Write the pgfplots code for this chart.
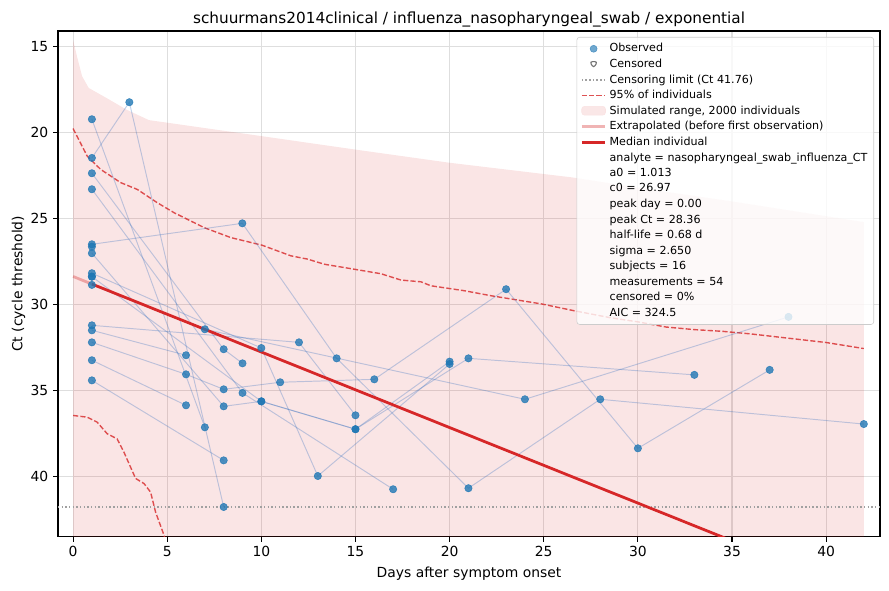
\documentclass[border=0pt]{standalone}
\usepackage{pgfplots}
\pgfplotsset{compat=1.18}
\usepackage{fontspec}
\setmainfont{DejaVu Sans}
\usetikzlibrary{calc}
\definecolor{mplblue}{HTML}{1F77B4}
\definecolor{mplred}{HTML}{D62728}
\definecolor{subj}{RGB}{50,110,190}
\definecolor{lgblue}{RGB}{76,146,195}
\definecolor{lgred}{RGB}{222,82,83}
\definecolor{lgpink}{RGB}{250,226,226}
\definecolor{lgextra}{RGB}{240,180,180}
\definecolor{lggray}{RGB}{160,160,160}
\begin{document}
\begin{tikzpicture}
\begin{axis}[
  name=ax,
  scale only axis,
  width=591.8pt, height=364.1pt,
  xmin=-0.80, xmax=42.86,
  ymin=14.09, ymax=43.49,
  y dir=reverse,
  xtick={0,5,...,40},
  ytick={15,20,...,40},
  tick align=outside,
  xtick pos=left, ytick pos=left,
  major tick length=3.5pt,
  every tick/.style={black, line width=0.8pt},
  axis line style={line width=0.8pt},
  grid=major,
  major grid style={black!13, line width=0.8pt},
  /pgf/number format/assume math mode=true,
  ticklabel style={font=\fontsize{10}{12}\selectfont},
  label style={font=\fontsize{10}{12}\selectfont},
  xlabel={Days after symptom onset},
  ylabel={Ct (cycle threshold)},
  every axis y label/.append style={yshift=-3pt},
  title={schuurmans2014clinical / influenza\_nasopharyngeal\_swab / exponential},
  title style={font=\fontsize{11}{13}\selectfont, yshift=-6.5pt},
  legend cell align=left,
  legend style={at={(1,1)}, anchor=north east, xshift=-4.3pt, yshift=-4.3pt,
    font=\fontsize{8}{9.6}\selectfont, draw=black!20, rounded corners=2pt,
    fill=white, fill opacity=0.8, text opacity=1, row sep=-0.35pt, inner sep=2.5pt},
]
% legend
\addlegendimage{legend image code/.code={\fill[lgblue] (0.3cm,0cm) circle[radius=2.5pt];}}
\addlegendentry{Observed}
\addlegendimage{legend image code/.code={\draw[black!55, line width=0.8pt] (0.2cm,2pt) -- (0.4cm,2pt) -- (0.3cm,-2.6pt) -- cycle;}}
\addlegendentry{Censored}
\addlegendimage{legend image code/.code={\draw[lggray, line width=1pt, dash pattern=on 1pt off 1.65pt] (0cm,0cm) -- (0.6cm,0cm);}}
\addlegendentry{Censoring limit (Ct 41.76)}
\addlegendimage{legend image code/.code={\draw[lgred, line width=1.1pt, dash pattern=on 3.7pt off 1.6pt] (0cm,0cm) -- (0.6cm,0cm);}}
\addlegendentry{95\% of individuals}
\addlegendimage{legend image code/.code={\fill[lgpink] (0cm,-0.1cm) rectangle (0.6cm,0.12cm);}}
\addlegendentry{Simulated range, 2000 individuals}
\addlegendimage{legend image code/.code={\draw[lgextra, line width=2pt] (0cm,0cm) -- (0.6cm,0cm);}}
\addlegendentry{Extrapolated (before first observation)}
\addlegendimage{legend image code/.code={\draw[mplred, line width=2pt] (0cm,0cm) -- (0.6cm,0cm);}}
\addlegendentry{Median individual}
\addlegendimage{empty legend}\addlegendentry{analyte = nasopharyngeal\_swab\_influenza\_CT}
\addlegendimage{empty legend}\addlegendentry{a0 = 1.013}
\addlegendimage{empty legend}\addlegendentry{c0 = 26.97}
\addlegendimage{empty legend}\addlegendentry{peak day = 0.00}
\addlegendimage{empty legend}\addlegendentry{peak Ct = 28.36}
\addlegendimage{empty legend}\addlegendentry{half-life = 0.68 d}
\addlegendimage{empty legend}\addlegendentry{sigma = 2.650}
\addlegendimage{empty legend}\addlegendentry{subjects = 16}
\addlegendimage{empty legend}\addlegendentry{measurements = 54}
\addlegendimage{empty legend}\addlegendentry{censored = 0\%}
\addlegendimage{empty legend}\addlegendentry{AIC = 324.5}

% simulated range
\addplot[forget plot, draw=none, fill=mplred, fill opacity=0.12] coordinates {
 (0,14.6) (0.21,15.58) (0.48,16.72) (0.83,17.4) (1.8,18.0) (2.87,18.68) (4.03,19.27)
 (10,20.2) (15.1,21.0) (20,21.75) (26.5,22.6) (30,23.2) (35,24.0) (42,25.2)
 (42,50) (0,50) (0,14.6)};

% 95% dashed lines
\addplot[forget plot, mplred, opacity=0.8, line width=1pt, dash pattern=on 3.7pt off 1.6pt] coordinates {
 (0,19.76) (0.75,21.36) (1.46,22.13) (2.52,22.9) (3.41,23.3) (4.47,24.07) (5.36,24.65)
 (6.96,25.52) (8.38,26.1) (10.03,26.54) (11.57,27.16) (12.45,27.35) (13.35,27.65) (14.4,27.84)
 (16.35,28.2) (17.42,28.57) (18.48,28.67) (19.0,28.9) (20.79,29.19) (22.2,29.48) (24.9,29.96)
 (26.6,30.35) (28.5,30.75) (30,31.0) (31.5,31.3) (33,31.45) (34.5,31.55) (36,31.7) (38,31.95)
 (40,32.2) (42,32.55)};
\addplot[forget plot, mplred, opacity=0.8, line width=1pt, dash pattern=on 3.7pt off 1.6pt] coordinates {
 (0,36.44) (0.75,36.54) (1.28,36.83) (1.81,37.5) (2.34,37.8) (2.7,38.57) (3.32,40.1)
 (3.77,40.4) (4.12,40.9) (4.38,42.05) (4.83,43.4) (5.0,44.2)};

% censoring limit
\addplot[forget plot, lggray, line width=1pt, dash pattern=on 1pt off 1.65pt] coordinates {(-1,41.76) (44,41.76)};

% subject trajectories
\pgfplotsset{subjline/.style={forget plot, subj, opacity=0.3, line width=0.7pt}}
\addplot[subjline] coordinates {(1,21.47) (2.99,18.23) (8,41.76)};
\addplot[subjline] coordinates {(1,26.49) (8.99,25.27) (14,33.12) (21,40.67) (28,35.5) (42,36.94)};
\addplot[subjline] coordinates {(1,32.19) (6,34.05) (8,34.92) (11,34.51) (16,34.34) (23,29.1) (30,38.35) (37,33.79)};
\addplot[subjline] coordinates {(1,28.85) (7,31.43) (24,35.5) (38,30.71)};
\addplot[subjline] coordinates {(1,28.17) (10,32.52) (13,39.96) (20,33.45)};
\addplot[subjline] coordinates {(1,31.2) (12,32.19) (15,36.43)};
\addplot[subjline] coordinates {(1,27.01) (8,35.91) (10,35.62) (15,37.24) (21,33.12) (33,34.08)};
\addplot[subjline] coordinates {(1,28.37) (10,35.62) (15,37.24) (20,33.31)};
\addplot[subjline] coordinates {(1,23.29) (9,35.13) (17,40.73)};
\addplot[subjline] coordinates {(1,34.4) (8,39.05)};
\addplot[subjline] coordinates {(1,19.22) (7,37.13)};
\addplot[subjline] coordinates {(1,22.36) (8,32.59) (9,33.41)};
\addplot[subjline] coordinates {(1,31.49) (6,32.94)};
\addplot[subjline] coordinates {(1,33.23) (6,35.85)};

% observed points
\addplot[forget plot, only marks, mark=*, mark size=2.65pt, mark options={fill=mplblue, draw=mplblue, fill opacity=0.8, draw opacity=0.8}] coordinates {
 (1,21.47) (2.99,18.23) (8,41.76)
 (1,26.49) (8.99,25.27) (14,33.12) (21,40.67) (28,35.5) (42,36.94)
 (1,32.19) (6,34.05) (8,34.92) (11,34.51) (16,34.34) (23,29.1) (30,38.35) (37,33.79)
 (1,28.85) (7,31.43) (24,35.5) (38,30.71)
 (1,28.17) (10,32.52) (13,39.96) (20,33.45)
 (1,31.2) (12,32.19) (15,36.43)
 (1,27.01) (8,35.91) (10,35.62) (15,37.24) (21,33.12) (33,34.08)
 (1,28.37) (10,35.62) (15,37.24) (20,33.31)
 (1,23.29) (9,35.13) (17,40.73)
 (1,34.4) (8,39.05)
 (1,19.22) (7,37.13)
 (1,22.36) (8,32.59) (9,33.41)
 (1,31.49) (6,32.94)
 (1,33.23) (6,35.85)
 (1,26.63)
 (1,28.37)};

% median individual
\addplot[forget plot, mplred, opacity=0.35, line width=2pt] coordinates {(0,28.36) (1,28.8)};
\addplot[forget plot, mplred, line width=2pt] coordinates {(1,28.8) (35.5,43.95)};
\end{axis}
\pgfresetboundingbox
\path[use as bounding box] ($(ax.south west)+(-41.76pt,-38.4pt)$) rectangle ($(ax.north east)+(6.48pt,22.32pt)$);
\end{tikzpicture}
\end{document}
